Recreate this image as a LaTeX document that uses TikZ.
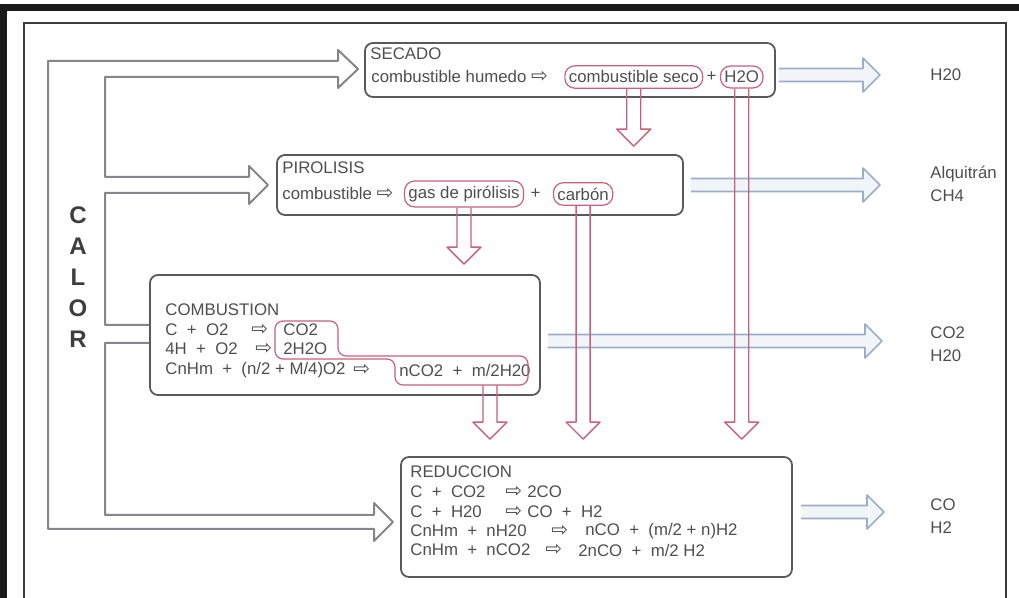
\documentclass[tikz,border=0pt]{standalone}
\usepackage{fontspec}
\setmainfont{Liberation Sans}
\newfontfamily\symfont{DejaVu Sans}
\usepackage{tikz}
\usetikzlibrary{calc,fit,positioning}
\definecolor{gsInk}{HTML}{4E4E4E}
\definecolor{gsFrame}{HTML}{1A1A1A}
\definecolor{gsBox}{HTML}{5A5A5A}
\definecolor{gsHeat}{HTML}{85858C}
\definecolor{gsPink}{HTML}{C8607A}
\definecolor{gsBlue}{HTML}{9AAEC6}
\definecolor{gsBlueFill}{HTML}{F1F5FA}
\newcommand{\yields}{{\symfont\fontsize{10}{10}\selectfont ⇨}}
\tikzset{
  gs diagram/.style={x=0.5pt, y=-0.5pt, font=\fontsize{8.4}{11.5}\selectfont,
    text=gsInk, line join=round},
  gs box/.style={draw=gsBox, line width=0.9pt, rounded corners=4pt, inner sep=0pt},
  gs text/.style={anchor=west, inner sep=0pt, text=gsInk, align=left},
  gs pill/.style={draw=gsPink, line width=0.6pt, rounded corners=5pt,
    inner xsep=2pt, inner ysep=2.5pt, text=gsInk},
  gs calor/.style={font=\fontsize{12}{12}\selectfont\bfseries, text=gsInk!80!black},
  gs heat/.style={draw=gsHeat, line width=1pt},
  block right/.style={to path={let \p1=(\tikztostart), \p2=(\tikztotarget) in
    (\x1,\y1+3.25pt) -- (\x2-8.5pt,\y1+3.25pt) -- (\x2-8.5pt,\y1+8.5pt) -- (\x2,\y1)
    -- (\x2-8.5pt,\y1-8.5pt) -- (\x2-8.5pt,\y1-3.25pt) -- (\x1,\y1-3.25pt)}},
  block down/.style={to path={let \p1=(\tikztostart), \p2=(\tikztotarget) in
    (\x1-3.5pt,\y1) -- (\x1-3.5pt,\y2+8.5pt) -- (\x1-8.5pt,\y2+8.5pt) -- (\x1,\y2)
    -- (\x1+8.5pt,\y2+8.5pt) -- (\x1+3.5pt,\y2+8.5pt) -- (\x1+3.5pt,\y1)}},
  gs out/.style={draw=gsBlue, fill=gsBlueFill, line width=0.8pt, block right},
  gs drop/.style={draw=gsPink, line width=0.7pt, block down}
}
\begin{document}
\begin{tikzpicture}[gs diagram]
\useasboundingbox (0,0) rectangle (1019,598);
% frames
\draw[gsFrame, line width=3.5pt, line join=miter] (3.5,598) -- (3.5,7.5) -- (1019,7.5);
\draw[gsFrame!85, line width=1.2pt, line join=miter] (24,598) -- (24,23) -- (1006,23) -- (1006,598);

% process boxes
\node[gs box, fit={(365,43) (775,97)}] (secado) {};
\node[gs box, fit={(277,155) (683,215)}] (pirolisis) {};
\node[gs box, fit={(150,275) (540,395)}] (combustion) {};
\node[gs box, fit={(401,457) (792,577)}] (reduccion) {};

% secado
\node[gs text] (secadoT) at (370,54) {SECADO};
\node[gs text] (secadoL) at (371,77) {combustible humedo \yields};
\node[gs pill, right=8pt of secadoL] (seco) {combustible seco};
\node[gs text, right=1.5pt of seco] (secPlus) {+};
\node[gs pill, right=1.5pt of secPlus] (h2o) {H2O};

% pirolisis
\node[gs text] (piroT) at (282,168) {PIROLISIS};
\node[gs text] (piroL) at (282,194) {combustible \yields};
\node[gs pill, right=5pt of piroL] (gas) {gas de pirólisis};
\node[gs text, right=3pt of gas] (piroPlus) {+};
\node[gs pill, right=6pt of piroPlus] (carbon) {carbón};

% combustion
\node[gs text] (combT) at (165,310) {COMBUSTION};
\node[gs text] (comb1) at (165,330) {C\ \ +\ \ O2};
\node[gs text] (comb2) at (165,349) {4H\ \ +\ \ O2};
\node[gs text] (comb3) at (165,370) {CnHm\ \ +\ \ (n/2 + M/4)O2};
\node[gs text] (combY1) at (251,330) {\yields};
\node[gs text] (combY2) at (255,349) {\yields};
\node[gs text] (combY3) at (353,370) {\yields};
\node[gs text] (combP1) at (283,330) {CO2};
\node[gs text] (combP2) at (283,349) {2H2O};
\node[gs text] (combP3) at (399,370) {nCO2\ \ +\ \ m/2H20};
\draw[draw=gsPink, line width=0.6pt, rounded corners=4pt]
  (275,321) -- (338,321) -- (338,356) -- (528,356) -- (528,385)
  -- (395,385) -- (395,359) -- (275,359) -- cycle;

% reduccion
\node[gs text] (redT) at (410,472) {REDUCCION};
\node[gs text] (red1) at (410,492) {C\ \ +\ \ CO2};
\node[gs text] (red2) at (410,512) {C\ \ +\ \ H20};
\node[gs text] (red3) at (410,531) {CnHm\ \ +\ \ nH20};
\node[gs text] (red4) at (410,550) {CnHm\ \ +\ \ nCO2};
\node[gs text] (redY1) at (505,492) {\yields};
\node[gs text] (redY2) at (505,512) {\yields};
\node[gs text] (redY3) at (551,531) {\yields};
\node[gs text] (redY4) at (545,550) {\yields};
\node[gs text] (redP1) at (527,492) {2CO};
\node[gs text] (redP2) at (527,512) {CO\ \ +\ \ H2};
\node[gs text] (redP3) at (585,531) {nCO\ \ +\ \ (m/2 + n)H2};
\node[gs text] (redP4) at (578,550) {2nCO\ \ +\ \ m/2 H2};

% calor
\foreach \ch [count=\i] in {C,A,L,O,R}
  \node[gs calor] (calor\i) at (78,184+31*\i) {\ch};

% heat supply
\draw[gs heat] (combustion.west |- 0,343) -- (105,343) -- (105,515) -- (374,515)
  -- (374,503) -- (393,522) -- (374,541) -- (374,529) -- (48,529) -- (48,61)
  -- (338,61) -- (338,50) -- (358,69) -- (338,88) -- (338,77) -- (105,77)
  -- (105,177) -- (249,177) -- (249,166) -- (268,185) -- (249,204) -- (249,193)
  -- (105,193) -- (105,325) -- (combustion.west |- 0,325);

% products leaving
\coordinate (secOut) at ($(secado.east |- h2o.east)+(3,-2)$);
\coordinate (secTip) at (880,75);
\coordinate (piroOut) at ($(pirolisis.east)+(7,0)$);
\coordinate (piroTip) at (880,184);
\coordinate (combOut) at ($(combustion.east)+(7,6)$);
\coordinate (combTip) at (882,341);
\coordinate (redOut) at ($(reduccion.east)+(8,-5)$);
\coordinate (redTip) at (884,512);
\draw[gs out] (secOut) to (secTip);
\draw[gs out] (piroOut) to (piroTip);
\draw[gs out] (combOut) to (combTip);
\draw[gs out] (redOut) to (redTip);
\node[gs text] (secGas) at (930,75) {H20};
\node[gs text] (piroGas) at (930,184) {Alquitrán\\CH4};
\node[gs text] (combGas) at (930,344) {CO2\\H20};
\node[gs text] (redGas) at (930,516) {CO\\H2};

% solids and gases passing down
\coordinate (nco2Out) at (490,385);
\coordinate (dropSeco) at ($(pirolisis.north)+(0,-8)$);
\coordinate (dropGas) at ($(combustion.north)+(0,-10)$);
\coordinate (dropRed) at ($(reduccion.north)+(0,-17)$);
\draw[gs drop] (seco.south) to (dropSeco);
\draw[gs drop] (gas.south) to (dropGas);
\draw[gs drop] (carbon.south) to (dropRed);
\draw[gs drop] (h2o.south) to (dropRed);
\draw[gs drop] (nco2Out) to (dropRed);
\end{tikzpicture}
\end{document}
